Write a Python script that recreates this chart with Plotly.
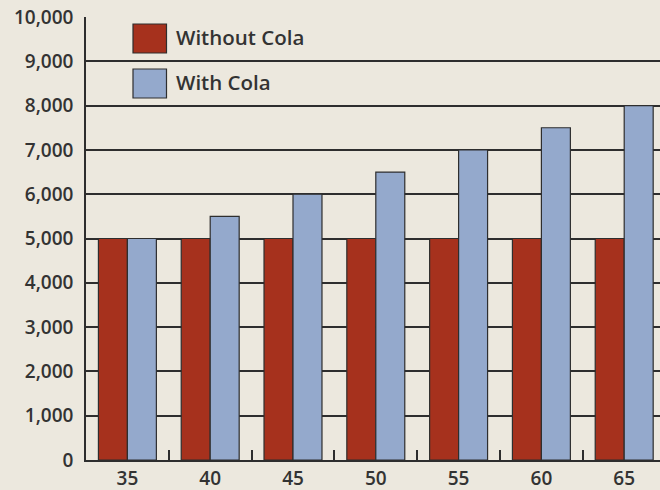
import plotly.graph_objects as go

# Data
ages = ["35", "40", "45", "50", "55", "60", "65"]
without_cola = [5000, 5000, 5000, 5000, 5000, 5000, 5000]
with_cola = [5000, 5500, 6000, 6500, 7000, 7500, 8000]
series_names = ["Without Cola", "With Cola"]
series_colors = ["#a6311d", "#94a9cc"]
y_ticks = list(range(0, 10001, 1000))

BG = "#ece8de"
INK = "#2e2e2e"
W, H = 660, 490
ML, MR, MT, MB = 86, 0, 17, 30
PW, PH = W - ML - MR, H - MT - MB

FONT = dict(family="Open Sans, Lato, sans-serif", size=19, color="#333333", weight=600)

fig = go.Figure()
for name, vals, col in zip(series_names, [without_cola, with_cola], series_colors):
    fig.add_trace(go.Bar(
        x=ages, y=vals, name=name,
        marker=dict(color=col, line=dict(color=INK, width=1.2)),
        showlegend=False,
    ))


def px_x(px):
    return (px - ML) / PW


def px_y(py):
    return (H - MB - py) / PH


# Legend drawn as large swatches with labels inside the plot area
shapes, annotations = [], []
for i, (name, col) in enumerate(zip(series_names, series_colors)):
    top = 24 + i * 45
    shapes.append(dict(
        type="rect", xref="paper", yref="paper",
        x0=px_x(133), x1=px_x(166.5), y0=px_y(top + 29), y1=px_y(top),
        fillcolor=col, line=dict(color=INK, width=1.2), layer="above",
    ))
    annotations.append(dict(
        xref="paper", yref="paper", x=px_x(174), y=px_y(top + 13),
        text=name, showarrow=False, xanchor="left", yanchor="middle",
        font=dict(FONT, size=20.5),
    ))

fig.update_layout(
    width=W, height=H,
    margin=dict(l=ML, r=MR, t=MT, b=MB),
    paper_bgcolor=BG, plot_bgcolor=BG,
    barmode="group", bargap=0.3, bargroupgap=0,
    font=FONT,
    shapes=shapes, annotations=annotations,
    xaxis=dict(
        type="category", range=[-0.5, -0.5 + PW / 82.8],
        tickson="boundaries", ticks="inside", ticklen=10, tickwidth=1.5,
        tickcolor=INK, showgrid=False, showline=True, linecolor=INK,
        linewidth=1.5, tickfont=dict(FONT, size=19), zeroline=False,
        ticklabelstandoff=0, automargin=False,
    ),
    yaxis=dict(
        range=[0, 10000], tickvals=y_ticks, tickformat=",",
        showgrid=True, gridcolor=INK, gridwidth=1.5,
        showline=True, linecolor=INK, linewidth=1.5,
        ticks="", ticklabelstandoff=7, zeroline=False,
        tickfont=dict(FONT, size=19), automargin=False,
    ),
)

fig.write_html("out.html")
